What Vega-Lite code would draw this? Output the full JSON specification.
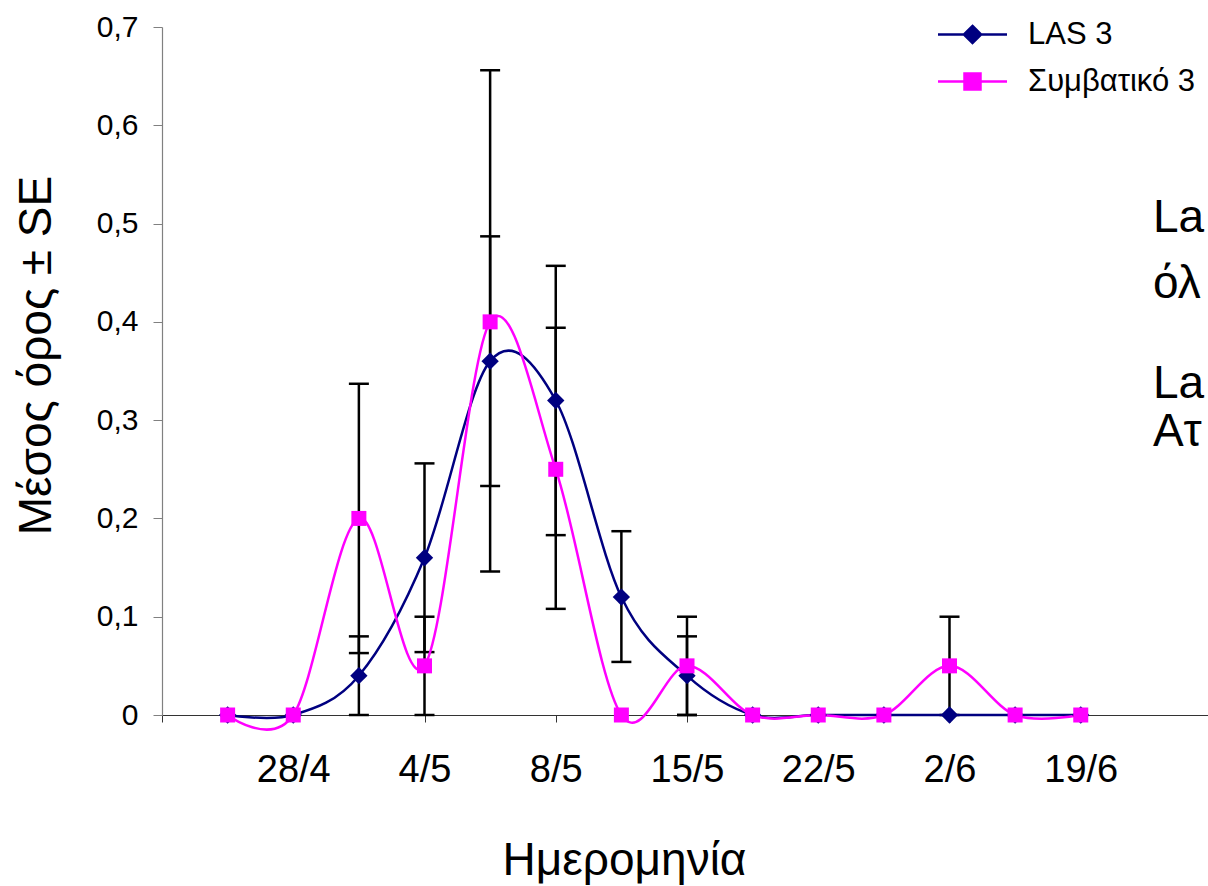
{
  "$schema": "https://vega.github.io/schema/vega-lite/v6.json",
  "width": 1050,
  "height": 688,
  "autosize": {"type": "none"},
  "padding": {"left": 162, "top": 27, "right": 0, "bottom": 171},
  "background": "white",
  "config": {
    "font": "Liberation Sans",
    "view": {"stroke": null}
  },
  "datasets": {
    "means": [
      {"i": 1, "series": "LAS 3", "mean": 0},
      {"i": 2, "series": "LAS 3", "mean": 0},
      {"i": 3, "series": "LAS 3", "mean": 0.04},
      {"i": 4, "series": "LAS 3", "mean": 0.16},
      {"i": 5, "series": "LAS 3", "mean": 0.36},
      {"i": 6, "series": "LAS 3", "mean": 0.32},
      {"i": 7, "series": "LAS 3", "mean": 0.12},
      {"i": 8, "series": "LAS 3", "mean": 0.04},
      {"i": 9, "series": "LAS 3", "mean": 0},
      {"i": 10, "series": "LAS 3", "mean": 0},
      {"i": 11, "series": "LAS 3", "mean": 0},
      {"i": 12, "series": "LAS 3", "mean": 0},
      {"i": 13, "series": "LAS 3", "mean": 0},
      {"i": 14, "series": "LAS 3", "mean": 0},
      {"i": 1, "series": "Συμβατικό 3", "mean": 0},
      {"i": 2, "series": "Συμβατικό 3", "mean": 0},
      {"i": 3, "series": "Συμβατικό 3", "mean": 0.2},
      {"i": 4, "series": "Συμβατικό 3", "mean": 0.05},
      {"i": 5, "series": "Συμβατικό 3", "mean": 0.4},
      {"i": 6, "series": "Συμβατικό 3", "mean": 0.25},
      {"i": 7, "series": "Συμβατικό 3", "mean": 0},
      {"i": 8, "series": "Συμβατικό 3", "mean": 0.05},
      {"i": 9, "series": "Συμβατικό 3", "mean": 0},
      {"i": 10, "series": "Συμβατικό 3", "mean": 0},
      {"i": 11, "series": "Συμβατικό 3", "mean": 0},
      {"i": 12, "series": "Συμβατικό 3", "mean": 0.05},
      {"i": 13, "series": "Συμβατικό 3", "mean": 0},
      {"i": 14, "series": "Συμβατικό 3", "mean": 0}
    ],
    "errs": [
      {"i": 3, "series": "LAS 3", "lo": 0, "hi": 0.08},
      {"i": 3, "series": "Συμβατικό 3", "lo": 0.063, "hi": 0.337},
      {"i": 4, "series": "LAS 3", "lo": 0.064, "hi": 0.256},
      {"i": 4, "series": "Συμβατικό 3", "lo": 0, "hi": 0.1},
      {"i": 5, "series": "LAS 3", "lo": 0.233, "hi": 0.487},
      {"i": 5, "series": "Συμβατικό 3", "lo": 0.146, "hi": 0.656},
      {"i": 6, "series": "LAS 3", "lo": 0.183, "hi": 0.457},
      {"i": 6, "series": "Συμβατικό 3", "lo": 0.108, "hi": 0.394},
      {"i": 7, "series": "LAS 3", "lo": 0.054, "hi": 0.187},
      {"i": 8, "series": "LAS 3", "lo": 0, "hi": 0.08},
      {"i": 8, "series": "Συμβατικό 3", "lo": 0, "hi": 0.1},
      {"i": 12, "series": "Συμβατικό 3", "lo": 0, "hi": 0.1}
    ],
    "notes": [
      {"x": 15.1, "y": 0.491, "t": "La"},
      {"x": 15.1, "y": 0.424, "t": "όλ"},
      {"x": 15.1, "y": 0.323, "t": "La"},
      {"x": 15.1, "y": 0.274, "t": "Ατ"}
    ]
  },
  "encoding": {
    "x": {
      "type": "quantitative",
      "scale": {"domain": [0, 16], "nice": false, "zero": false},
      "axis": {
        "values": [0, 2, 4, 6, 8, 10, 12, 14, 16],
        "labelExpr": "datum.value == 2 ? '28/4' : datum.value == 4 ? '4/5' : datum.value == 6 ? '8/5' : datum.value == 8 ? '15/5' : datum.value == 10 ? '22/5' : datum.value == 12 ? '2/6' : datum.value == 14 ? '19/6' : ''",
        "grid": false,
        "domainColor": "#333333",
        "domainWidth": 1.2,
        "tickColor": "#333333",
        "tickSize": 7,
        "labelFontSize": 38,
        "labelColor": "black",
        "labelPadding": 29,
        "labelFlush": false,
        "labelOverlap": false,
        "title": "Ημερομηνία",
        "titleFontSize": 46,
        "titleFontWeight": "normal",
        "titleColor": "black",
        "titleX": 462,
        "titleY": 159,
        "titleBaseline": "alphabetic",
        "titleAnchor": "middle",
        "titleAlign": "center"
      }
    },
    "y": {
      "type": "quantitative",
      "scale": {"domain": [0, 0.7], "nice": false},
      "axis": {
        "values": [0, 0.1, 0.2, 0.3, 0.4, 0.5, 0.6, 0.7],
        "labelExpr": "datum.value == 0 ? '0' : replace(format(datum.value, '.1f'), '.', ',')",
        "grid": false,
        "domainColor": "#808080",
        "domainWidth": 1.2,
        "tickColor": "#808080",
        "tickSize": 9,
        "labelFontSize": 30,
        "labelColor": "black",
        "labelPadding": 15,
        "title": "Μέσος όρος ± SE",
        "titleFontSize": 46,
        "titleFontWeight": "normal",
        "titleColor": "black",
        "titleX": -112,
        "titleY": 328,
        "titleBaseline": "alphabetic",
        "titleAngle": -90
      }
    }
  },
  "layer": [
    {
      "data": {"name": "errs"},
      "mark": {"type": "rule", "color": "black", "strokeWidth": 2.5},
      "encoding": {
        "x": {"field": "i", "type": "quantitative"},
        "y": {"field": "lo", "type": "quantitative"},
        "y2": {"field": "hi"}
      }
    },
    {
      "data": {"name": "errs"},
      "mark": {"type": "tick", "orient": "horizontal", "color": "black", "size": 20, "thickness": 2.5, "opacity": 1},
      "encoding": {
        "x": {"field": "i", "type": "quantitative"},
        "y": {"field": "hi", "type": "quantitative"}
      }
    },
    {
      "data": {"name": "errs"},
      "mark": {"type": "tick", "orient": "horizontal", "color": "black", "size": 20, "thickness": 2.5, "opacity": 1},
      "encoding": {
        "x": {"field": "i", "type": "quantitative"},
        "y": {"field": "lo", "type": "quantitative"}
      }
    },
    {
      "data": {"name": "means"},
      "mark": {"type": "line", "interpolate": "cardinal", "tension": 0, "strokeWidth": 2.5},
      "encoding": {
        "x": {"field": "i", "type": "quantitative"},
        "y": {"field": "mean", "type": "quantitative"},
        "color": {
          "field": "series",
          "type": "nominal",
          "scale": {"domain": ["LAS 3", "Συμβατικό 3"], "range": ["#000080", "#FF00FF"]},
          "legend": {
            "title": null,
            "orient": "none",
            "legendX": 789,
            "legendY": -14,
            "padding": 0,
            "symbolSize": 1600,
            "symbolStrokeWidth": 2.5,
            "labelFontSize": 31,
            "labelLimit": 0,
            "labelColor": "black",
            "labelOffset": 34,
            "rowPadding": 10,
            "encode": {
              "symbols": {
                "update": {
                  "shape": {"signal": "datum.value === 'LAS 3' ? 'M-1.725,0H1.725M0,-0.43L0.43,0L0,0.43L-0.43,0Z' : 'M-1.725,0H1.725M-0.4,-0.4H0.4V0.4H-0.4Z'"},
                  "fill": {"signal": "datum.value === 'LAS 3' ? '#000080' : '#FF00FF'"},
                  "stroke": {"signal": "datum.value === 'LAS 3' ? '#000080' : '#FF00FF'"},
                  "strokeWidth": {"value": 2.5},
                  "opacity": {"value": 1}
                }
              }
            }
          }
        }
      }
    },
    {
      "data": {"name": "means"},
      "transform": [{"filter": "datum.series === 'LAS 3'"}],
      "mark": {"type": "point", "shape": "diamond", "filled": true, "opacity": 1, "strokeWidth": 0, "size": 300, "color": "#000080"},
      "encoding": {
        "x": {"field": "i", "type": "quantitative"},
        "y": {"field": "mean", "type": "quantitative"}
      }
    },
    {
      "data": {"name": "means"},
      "transform": [{"filter": "datum.series === 'Συμβατικό 3'"}],
      "mark": {"type": "point", "shape": "square", "filled": true, "opacity": 1, "strokeWidth": 0, "size": 225, "color": "#FF00FF"},
      "encoding": {
        "x": {"field": "i", "type": "quantitative"},
        "y": {"field": "mean", "type": "quantitative"}
      }
    },
    {
      "data": {"name": "notes"},
      "mark": {"type": "text", "align": "left", "baseline": "alphabetic", "fontSize": 46, "color": "black"},
      "encoding": {
        "x": {"field": "x", "type": "quantitative"},
        "y": {"field": "y", "type": "quantitative"},
        "text": {"field": "t"}
      }
    }
  ]
}
